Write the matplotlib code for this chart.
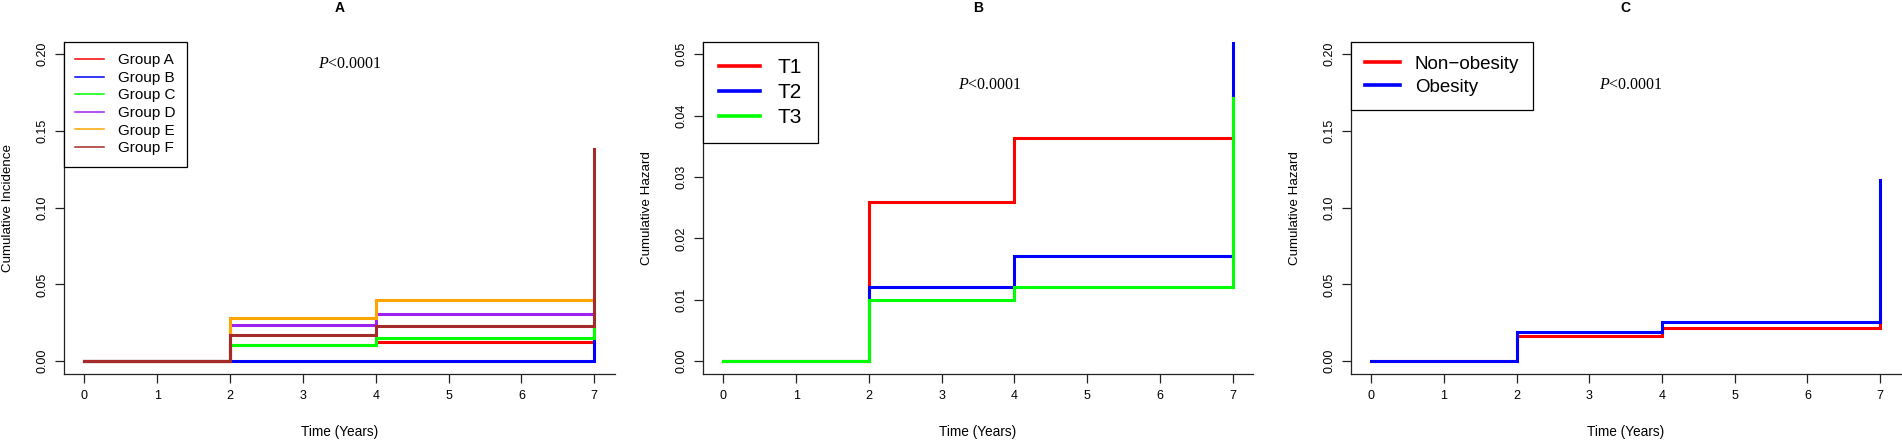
import matplotlib
matplotlib.use("Agg")
import matplotlib.pyplot as plt

plt.rcParams["font.family"] = ["Liberation Sans", "DejaVu Sans"]
plt.rcParams["mathtext.fontset"] = "custom"
plt.rcParams["mathtext.it"] = "Liberation Serif:italic"
plt.rcParams["mathtext.rm"] = "Liberation Serif"

# step times (years) and x ticks
times = [0, 2, 4, 7]
year_ticks = [0, 1, 2, 3, 4, 5, 6, 7]

# panel A: cumulative incidence by group
groups_a = ["Group A", "Group B", "Group C", "Group D", "Group E", "Group F"]
inc_group_a = [0, 0.0104, 0.0122, 0.0122]
inc_group_b = [0, 0.0, 0.0, 0.0141]
inc_group_c = [0, 0.0104, 0.0152, 0.0213]
inc_group_d = [0, 0.0239, 0.0305, 0.0305]
inc_group_e = [0, 0.0282, 0.0402, 0.0402]
inc_group_f = [0, 0.0170, 0.0228, 0.1383]
colors_a = ["#FF0000", "#0000FF", "#00FF00", "#A020F0", "#FFA500", "#A52A2A"]
yticks_a = [0.0, 0.05, 0.10, 0.15, 0.20]
ylabels_a = ["0.00", "0.05", "0.10", "0.15", "0.20"]

# panel B: cumulative hazard by tertile
groups_b = ["T1", "T2", "T3"]
haz_t1 = [0, 0.0259, 0.0364, 0.0364]
haz_t2 = [0, 0.0121, 0.0171, 0.0600]
haz_t3 = [0, 0.0100, 0.0121, 0.0428]
colors_b = ["#FF0000", "#0000FF", "#00FF00"]
yticks_b = [0.0, 0.01, 0.02, 0.03, 0.04, 0.05]
ylabels_b = ["0.00", "0.01", "0.02", "0.03", "0.04", "0.05"]

# panel C: cumulative hazard by obesity
groups_c = ["Non\u2212obesity", "Obesity"]
haz_nonobese = [0, 0.0163, 0.0218, 0.0300]
haz_obese = [0, 0.0192, 0.0254, 0.1183]
colors_c = ["#FF0000", "#0000FF"]
yticks_c = yticks_a
ylabels_c = ylabels_a

W, H = 1902, 442
fig = plt.figure(figsize=(W / 100, H / 100), dpi=100)

ax_bottom = 68.5 / H
ax_height = 331.5 / H
axes = [
    fig.add_axes([64 / W, ax_bottom, 550.6 / W, ax_height]),
    fig.add_axes([703 / W, ax_bottom, 550 / W, ax_height]),
    fig.add_axes([1350.7 / W, ax_bottom, 549.8 / W, ax_height]),
]

panels = [
    ("A", "Cumulative Incidence", groups_a,
     [inc_group_a, inc_group_b, inc_group_c, inc_group_d, inc_group_e, inc_group_f],
     colors_a, (-0.008, 0.208), yticks_a, ylabels_a, (3.65, 0.1935)),
    ("B", "Cumulative Hazard", groups_b, [haz_t1, haz_t2, haz_t3],
     colors_b, (-0.002, 0.052), yticks_b, ylabels_b, (3.66, 0.045)),
    ("C", "Cumulative Hazard", groups_c, [haz_nonobese, haz_obese],
     colors_c, (-0.008, 0.208), yticks_c, ylabels_c, (3.57, 0.18)),
]

axis_col = "#222222"

for ax, (title, ylabel, names, series, cols, ylim, yt, ytl, ptxt) in zip(axes, panels):
    for name, vals, c in zip(names, series, cols):
        ax.plot(times, vals, drawstyle="steps-post", color=c, lw=2.2,
                label=name, solid_joinstyle="miter")

    ax.set_xlim(-0.28, 7.28)
    ax.set_ylim(*ylim)
    ax.set_xticks(year_ticks)
    ax.set_xticklabels([str(v) for v in year_ticks])
    ax.set_yticks(yt)
    ax.set_yticklabels(ytl)

    for s in ["top", "right"]:
        ax.spines[s].set_visible(False)
    for s in ["left", "bottom"]:
        ax.spines[s].set_color(axis_col)
        ax.spines[s].set_linewidth(0.9)

    ax.tick_params(axis="both", direction="out", length=6.3, width=0.9,
                   color=axis_col, labelsize=9)
    ax.tick_params(axis="x", pad=5.5)
    ax.tick_params(axis="y", pad=5)
    plt.setp(ax.get_yticklabels(), rotation=90, va="center")

    ax.set_xlabel("Time (Years)", fontsize=9.8, va="center")
    ax.xaxis.set_label_coords(0.5, -58.7 / 331.5)
    ax.set_ylabel(ylabel, fontsize=9.6, va="center")
    ax.yaxis.set_label_coords(-56 / 550, 0.5)

    ax.text(0.5, 1 + 34 / 331.5, title, transform=ax.transAxes,
            ha="center", va="center", fontsize=10, fontweight="bold")

    ax.text(ptxt[0], ptxt[1], r"$P$<0.0001", fontfamily="Liberation Serif",
            fontsize=11.5, ha="center", va="center")

# legends
leg_a = axes[0].legend(loc="upper left", bbox_to_anchor=(0, 1), borderaxespad=0,
                       fontsize=11, fancybox=False, edgecolor="black", framealpha=1,
                       handlelength=1.9, handletextpad=0.9, labelspacing=0.235,
                       borderpad=0.74)
for ln in leg_a.get_lines():
    ln.set_linewidth(1.1)

leg_b = axes[1].legend(loc="upper left", bbox_to_anchor=(0, 1), borderaxespad=0,
                       fontsize=15, fancybox=False, edgecolor="black", framealpha=1,
                       handlelength=1.95, handletextpad=0.85, labelspacing=0.29,
                       borderpad=0.77)
for ln in leg_b.get_lines():
    ln.set_linewidth(2.6)

leg_c = axes[2].legend(loc="upper left", bbox_to_anchor=(0, 1), borderaxespad=0,
                       fontsize=13.5, fancybox=False, edgecolor="black", framealpha=1,
                       handlelength=1.87, handletextpad=0.8, labelspacing=0.3,
                       borderpad=0.74)
for ln in leg_c.get_lines():
    ln.set_linewidth(2.6)

for leg in (leg_a, leg_b, leg_c):
    leg.get_frame().set_linewidth(0.9)

fig.savefig("out.png", dpi=100)
